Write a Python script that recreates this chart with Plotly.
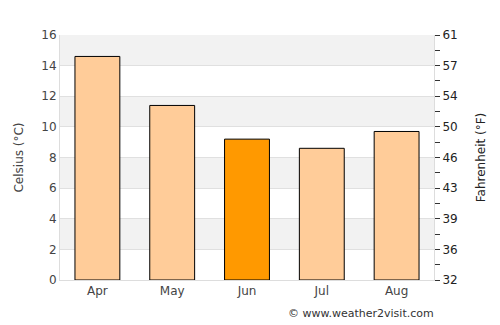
import plotly.graph_objects as go

months = ["Apr", "May", "Jun", "Jul", "Aug"]
celsius = [14.6, 11.4, 9.2, 8.6, 9.7]
highlight = "Jun"
c_ticks = list(range(0, 17, 2))
f_tick_labels = ["32", "36", "39", "43", "46", "50", "54", "57", "61"]

colors = ["#ff9900" if m == highlight else "#ffcc99" for m in months]

fig = go.Figure()
fig.add_trace(go.Bar(x=months, y=celsius, marker=dict(color=colors, line=dict(color="#000000", width=1)),
                     hoverinfo="skip"))
# invisible trace to activate the right axis
fig.add_trace(go.Scatter(x=months, y=[c * 1.8 + 32 for c in celsius], yaxis="y2", mode="markers",
                         marker=dict(opacity=0), hoverinfo="skip", showlegend=False))

shapes = []
for lo in [2, 6, 10, 14]:
    shapes.append(dict(type="rect", xref="paper", yref="y", x0=0, x1=1, y0=lo, y1=lo + 2,
                       fillcolor="#f2f2f2", line=dict(width=0), layer="below"))

f_vals = [c * 1.8 + 32 for c in range(0, 17)]
f_text = []
for c in range(0, 17):
    f_text.append(f_tick_labels[c // 2] if c % 2 == 0 else "")

fig.update_layout(
    width=500, height=325,
    margin=dict(l=60, r=66, t=35, b=45),
    paper_bgcolor="white", plot_bgcolor="white",
    bargap=0.4, showlegend=False,
    font=dict(family="DejaVu Sans", size=12, color="#444444"),
    shapes=shapes,
    xaxis=dict(showline=True, linecolor="#dddddd", linewidth=1, ticks="", mirror=False,
               tickfont=dict(size=12, color="#444444")),
    yaxis=dict(range=[0, 16], tickvals=c_ticks, showgrid=True, gridcolor="#e0e0e0", gridwidth=1,
               zeroline=False, showline=True, linecolor="#dddddd",
               title=dict(text="Celsius (°C)", font=dict(size=12, color="#444444"), standoff=15),
               tickfont=dict(size=12, color="#444444")),
    yaxis2=dict(range=[32, 60.8], overlaying="y", side="right", tickmode="array",
                tickvals=f_vals, ticktext=f_text, ticks="outside", ticklen=5, tickcolor="#333333",
                showgrid=False, zeroline=False, showline=True, linecolor="#dddddd",
                title=dict(text="Fahrenheit (°F)", font=dict(size=12, color="#222222"), standoff=19),
                tickfont=dict(size=12, color="#222222")),
    annotations=[dict(text="© www.weather2visit.com", xref="paper", yref="paper", x=1.005, y=-0.135,
                      xanchor="right", yanchor="middle", showarrow=False,
                      font=dict(size=11, color="#333333"))],
)

fig.write_html("out.html")
